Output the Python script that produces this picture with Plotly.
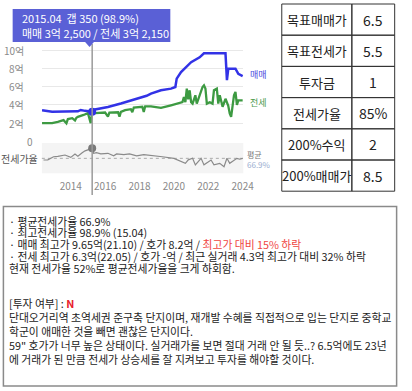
import plotly.graph_objects as go

# ---------------- data ----------------
sale_dates = ["2012-05", "2012-12", "2014-06", "2014-08", "2014-11", "2015-04", "2015-06",
              "2016-03", "2016-12", "2017-09", "2018-02", "2018-06", "2018-09", "2019-04",
              "2019-11", "2020-02", "2020-03", "2020-06", "2021-01", "2021-07", "2021-10",
              "2023-01", "2023-02", "2023-03", "2023-08", "2023-10", "2024-01"]
sale_vals = [3.42, 3.25, 3.30, 3.45, 3.35, 3.25, 3.50,
             3.78, 4.15, 4.58, 4.75, 5.00, 5.24, 5.60,
             5.78, 5.96, 6.87, 7.59, 8.67, 9.20, 9.65,
             9.65, 6.70, 7.96, 7.96, 7.40, 7.16]

jeonse_dates = ["2012-05", "2012-12", "2013-04", "2013-08", "2013-10", "2013-11", "2014-02",
                "2014-04", "2014-05", "2014-06", "2014-10", "2015-01", "2015-03", "2015-04",
                "2015-06", "2016-01", "2016-03", "2016-04", "2016-10", "2016-11", "2016-12",
                "2017-03", "2017-07", "2017-08", "2017-09", "2018-03", "2018-04", "2018-05",
                "2018-09", "2019-04", "2019-11", "2020-03", "2020-07", "2020-08", "2020-09",
                "2020-10", "2020-11", "2020-12", "2021-01", "2021-02", "2021-04", "2021-05",
                "2021-09", "2021-10", "2021-11", "2021-12", "2022-02", "2022-04", "2022-05",
                "2022-07", "2022-08", "2022-09", "2022-11", "2023-01", "2023-03", "2023-04",
                "2023-05", "2023-06", "2023-07", "2023-08", "2023-09", "2023-10", "2024-01"]
jeonse_vals = [2.00, 2.00, 2.15, 2.34, 2.00, 2.45, 2.55,
               2.30, 2.60, 2.70, 2.90, 3.10, 2.00, 3.215,
               3.10, 3.17, 2.72, 3.17, 3.20, 2.72, 3.24,
               3.42, 3.53, 3.20, 3.70, 3.80, 3.24, 3.85,
               3.85, 3.67, 3.96, 4.14, 4.30, 4.87, 4.30,
               5.78, 4.60, 5.60, 4.30, 4.14, 5.05, 4.14,
               5.96, 6.14, 5.80, 4.14, 4.30, 4.14, 5.60,
               5.78, 4.14, 5.05, 3.80, 4.67, 3.90, 3.06,
               2.70, 3.90, 5.05, 5.42, 4.00, 4.50, 4.50]

ratio_dates = ["2012-06", "2012-09", "2013-01", "2013-04", "2013-09", "2014-01", "2014-04",
               "2014-06", "2014-09", "2014-11", "2015-04", "2015-05", "2015-07", "2015-10",
               "2016-03", "2016-07", "2016-09", "2017-02", "2017-06", "2017-11", "2018-04",
               "2018-10", "2019-05", "2020-01", "2020-04", "2020-09", "2020-11", "2021-02",
               "2021-04", "2021-06", "2021-08", "2021-10", "2022-01", "2022-03", "2022-05",
               "2022-09", "2022-12", "2023-02", "2023-04", "2023-07", "2023-09", "2023-11",
               "2024-01"]
ratio_vals = [61.5, 62, 72, 73, 77.6, 70, 81,
              74, 84.9, 91, 98.9, 83, 84.9, 81,
              83, 75, 81, 78.8, 81, 75, 78.8,
              74.6, 72, 66.9, 61.5, 51, 62, 67,
              46, 56, 67, 46, 56, 61.5, 46,
              51, 40, 67, 51, 61.5, 67, 64,
              67]
avg_ratio = 66.9

cursor_date = "2015-04"
tooltip_lines = ["2015.04  갭 350 (98.9%)", "매매 3억 2,500 / 전세 3억 2,150"]

ytick_vals = [0, 2, 4, 6, 8, 10]
ytick_text = ["0", "2억", "4억", "6억", "8억", "10억"]
xtick_years = [2014, 2016, 2018, 2020, 2022, 2024]

table_labels = ["목표매매가", "목표전세가", "투자금", "전세가율", "200%수익", "200%매매가"]
table_values = ["6.5", "5.5", "1", "85%", "2", "8.5"]

summary_lines = [
    "· 평균전세가율 66.9%",
    "· 최고전세가율 98.9% (15.04)",
    "· 매매 최고가 9.65억(21.10) / 호가 8.2억 / <span style='color:#f0453f'>최고가 대비 15% 하락</span>",
    "· 전세 최고가 6.3억(22.05) / 호가 -억 / 최근 실거래 4.3억 최고가 대비 32% 하락",
    "현재 전세가율 52%로 평균전세가율을 크게 하회함.",
]
opinion_lines = [
    "[투자 여부] : <b><span style='color:#e8202a'>N</span></b>",
    "단대오거리역 초역세권 준구축 단지이며, 재개발 수혜를 직접적으로 입는 단지로 중학교",
    "학군이 애매한 것을 빼면 괜찮은 단지이다.",
    "59\" 호가가 너무 높은 상태이다. 실거래가를 보면 절대 거래 안 될 듯..? 6.5억에도 23년",
    "에 거래가 된 만큼 전세가 상승세를 잘 지켜보고 투자를 해야할 것이다.",
]

# ---------------- layout helpers ----------------
W, H = 412, 391
FONT = "Noto Sans CJK KR"


def px(x):
    return x / W


def py(y):
    return 1 - y / H


BLUE = "#3232e6"
GREEN = "#3d9a42"
GRAY_LINE = "#8a8a8a"

fig = go.Figure()

fig.add_trace(go.Scatter(x=jeonse_dates, y=jeonse_vals, mode="lines", line=dict(color=GREEN, width=2.3),
                         xaxis="x", yaxis="y", hoverinfo="skip"))
fig.add_trace(go.Scatter(x=sale_dates, y=sale_vals, mode="lines", line=dict(color=BLUE, width=2.5),
                         xaxis="x", yaxis="y", hoverinfo="skip"))
fig.add_trace(go.Scatter(x=ratio_dates, y=ratio_vals, mode="lines", line=dict(color=GRAY_LINE, width=1.2),
                         xaxis="x", yaxis="y2", hoverinfo="skip"))

ci = sale_dates.index(cursor_date)
fig.add_trace(go.Scatter(x=[sale_dates[ci]], y=[sale_vals[ci]], mode="markers",
                         marker=dict(color=BLUE, size=8), xaxis="x", yaxis="y", hoverinfo="skip"))
ri = ratio_dates.index(cursor_date)
fig.add_trace(go.Scatter(x=[ratio_dates[ri]], y=[ratio_vals[ri]], mode="markers",
                         marker=dict(color="#7a7a7a", size=8), xaxis="x", yaxis="y2", hoverinfo="skip"))

shapes = []
annotations = []

# ratio panel background and average line
shapes.append(dict(type="rect", xref="x domain", yref="y2 domain", x0=0, x1=1, y0=0, y1=1,
                   fillcolor="#f4f4f4", line=dict(width=0), layer="below"))
shapes.append(dict(type="line", xref="x domain", yref="y2", x0=0, x1=1, y0=avg_ratio, y1=avg_ratio,
                   line=dict(color="#aaaaaa", width=1, dash="dot"), layer="below"))

# cursor line
shapes.append(dict(type="line", xref="x", yref="paper", x0=cursor_date, x1=cursor_date,
                   y0=py(195), y1=py(44), line=dict(color="#9a9a9a", width=1.5)))

# y tick labels
for v, t in zip(ytick_vals, ytick_text):
    xr = 36 if t == "0" else 27
    annotations.append(dict(xref="paper", yref="y", x=px(xr), y=v, text=t, showarrow=False,
                            xanchor="right", yanchor="middle",
                            font=dict(family=FONT, size=10, color="#8a8a8a")))

# ratio label and average
annotations.append(dict(xref="paper", yref="y2", x=px(41), y=avg_ratio, text="전세가율", showarrow=False,
                        xanchor="right", yanchor="middle", font=dict(family=FONT, size=10, color="#555555")))
annotations.append(dict(xref="paper", yref="paper", x=px(252), y=py(160), align="left",
                        text="<span style='color:#777777'>평균</span><br>"
                             "<span style='color:#9aaed0'>66.9%</span>",
                        showarrow=False, xanchor="left", yanchor="middle",
                        font=dict(family=FONT, size=8, color="#777777")))

# series labels
annotations.append(dict(xref="paper", yref="paper", x=px(255), y=py(75), text="매매", showarrow=False,
                        xanchor="left", yanchor="middle", font=dict(family=FONT, size=9, color="#4a4ae0")))
annotations.append(dict(xref="paper", yref="paper", x=px(255), y=py(102), text="전세", showarrow=False,
                        xanchor="left", yanchor="middle", font=dict(family=FONT, size=9, color="#4c9a4c")))

# tooltip
TT = "#5a60d6"
shapes.append(dict(type="rect", xref="paper", yref="paper", x0=px(13), x1=px(175), y0=py(42), y1=py(9),
                   fillcolor=TT, line=dict(width=0)))
shapes.append(dict(type="path", xref="paper", yref="paper",
                   path=f"M {px(87)},{py(41.5)} L {px(97)},{py(41.5)} L {px(92)},{py(47)} Z",
                   fillcolor=TT, line=dict(width=0)))
for i, t in enumerate(tooltip_lines):
    annotations.append(dict(xref="paper", yref="paper", x=px(21), y=py(17.5 + 16 * i), text=t,
                            showarrow=False, xanchor="left", yanchor="middle",
                            font=dict(family=FONT, size=11, color="white")))

# table
tx0, txm, tx1 = 289.5, 361.5, 405.5
ty0, rh = 4, 31.2
for i, (lab, val) in enumerate(zip(table_labels, table_values)):
    ya = ty0 + i * rh
    yb = ya + rh
    shapes.append(dict(type="rect", xref="paper", yref="paper", x0=px(tx0), x1=px(txm), y0=py(yb), y1=py(ya),
                       line=dict(color="#333333", width=1)))
    shapes.append(dict(type="rect", xref="paper", yref="paper", x0=px(txm), x1=px(tx1), y0=py(yb), y1=py(ya),
                       line=dict(color="#333333", width=1)))
    annotations.append(dict(xref="paper", yref="paper", x=px((tx0 + txm) / 2), y=py((ya + yb) / 2), text=lab,
                            showarrow=False, xanchor="center", yanchor="middle",
                            font=dict(family=FONT, size=13, color="#222222")))
    annotations.append(dict(xref="paper", yref="paper", x=px((txm + tx1) / 2), y=py((ya + yb) / 2), text=val,
                            showarrow=False, xanchor="center", yanchor="middle",
                            font=dict(family=FONT, size=14, color="#222222")))

# text box
shapes.append(dict(type="rect", xref="paper", yref="paper", x0=px(3.5), x1=px(407.5), y0=py(386), y1=py(206.5),
                   line=dict(color="#8a8a8a", width=1.5)))
sum_y = [220.5, 232.3, 244.2, 256.0, 267.6]
for t, yy in zip(summary_lines, sum_y):
    annotations.append(dict(xref="paper", yref="paper", x=px(7), y=py(yy), text=t, showarrow=False,
                            xanchor="left", yanchor="middle", font=dict(family=FONT, size=10.8, color="#222222")))
annotations.append(dict(xref="paper", yref="paper", x=px(7), y=py(330.6), text="<br>".join(opinion_lines),
                        showarrow=False, align="left", xanchor="left", yanchor="middle",
                        font=dict(family=FONT, size=10.8, color="#222222")))

fig.update_layout(
    width=W, height=H,
    margin=dict(l=0, r=0, t=0, b=0),
    paper_bgcolor="white", plot_bgcolor="white",
    showlegend=False,
    font=dict(family=FONT),
    xaxis=dict(domain=[px(43), px(250)], type="date", range=["2012-04-27", "2024-01-15"],
               anchor="y2", tickvals=[f"{y}-01-01" for y in xtick_years],
               ticktext=[str(y) for y in xtick_years], tickfont=dict(size=10, color="#8a8a8a", family=FONT),
               showgrid=False, showline=False, zeroline=False, ticks="", ticklabelstandoff=6),
    yaxis=dict(domain=[py(142), py(44)], range=[-0.055, 10.66], tickvals=ytick_vals, showticklabels=False,
               showgrid=True, gridcolor="#e8e8e8", gridwidth=1, zeroline=False, showline=False, ticks=""),
    yaxis2=dict(domain=[py(173.3), py(143)], range=[19, 116], showticklabels=False, showgrid=False,
                zeroline=False, showline=False, ticks=""),
    shapes=shapes,
    annotations=annotations,
)

fig.write_html("out.html", config={"displayModeBar": False},
               post_script="document.body.style.margin='0';document.body.style.overflow='hidden';")
